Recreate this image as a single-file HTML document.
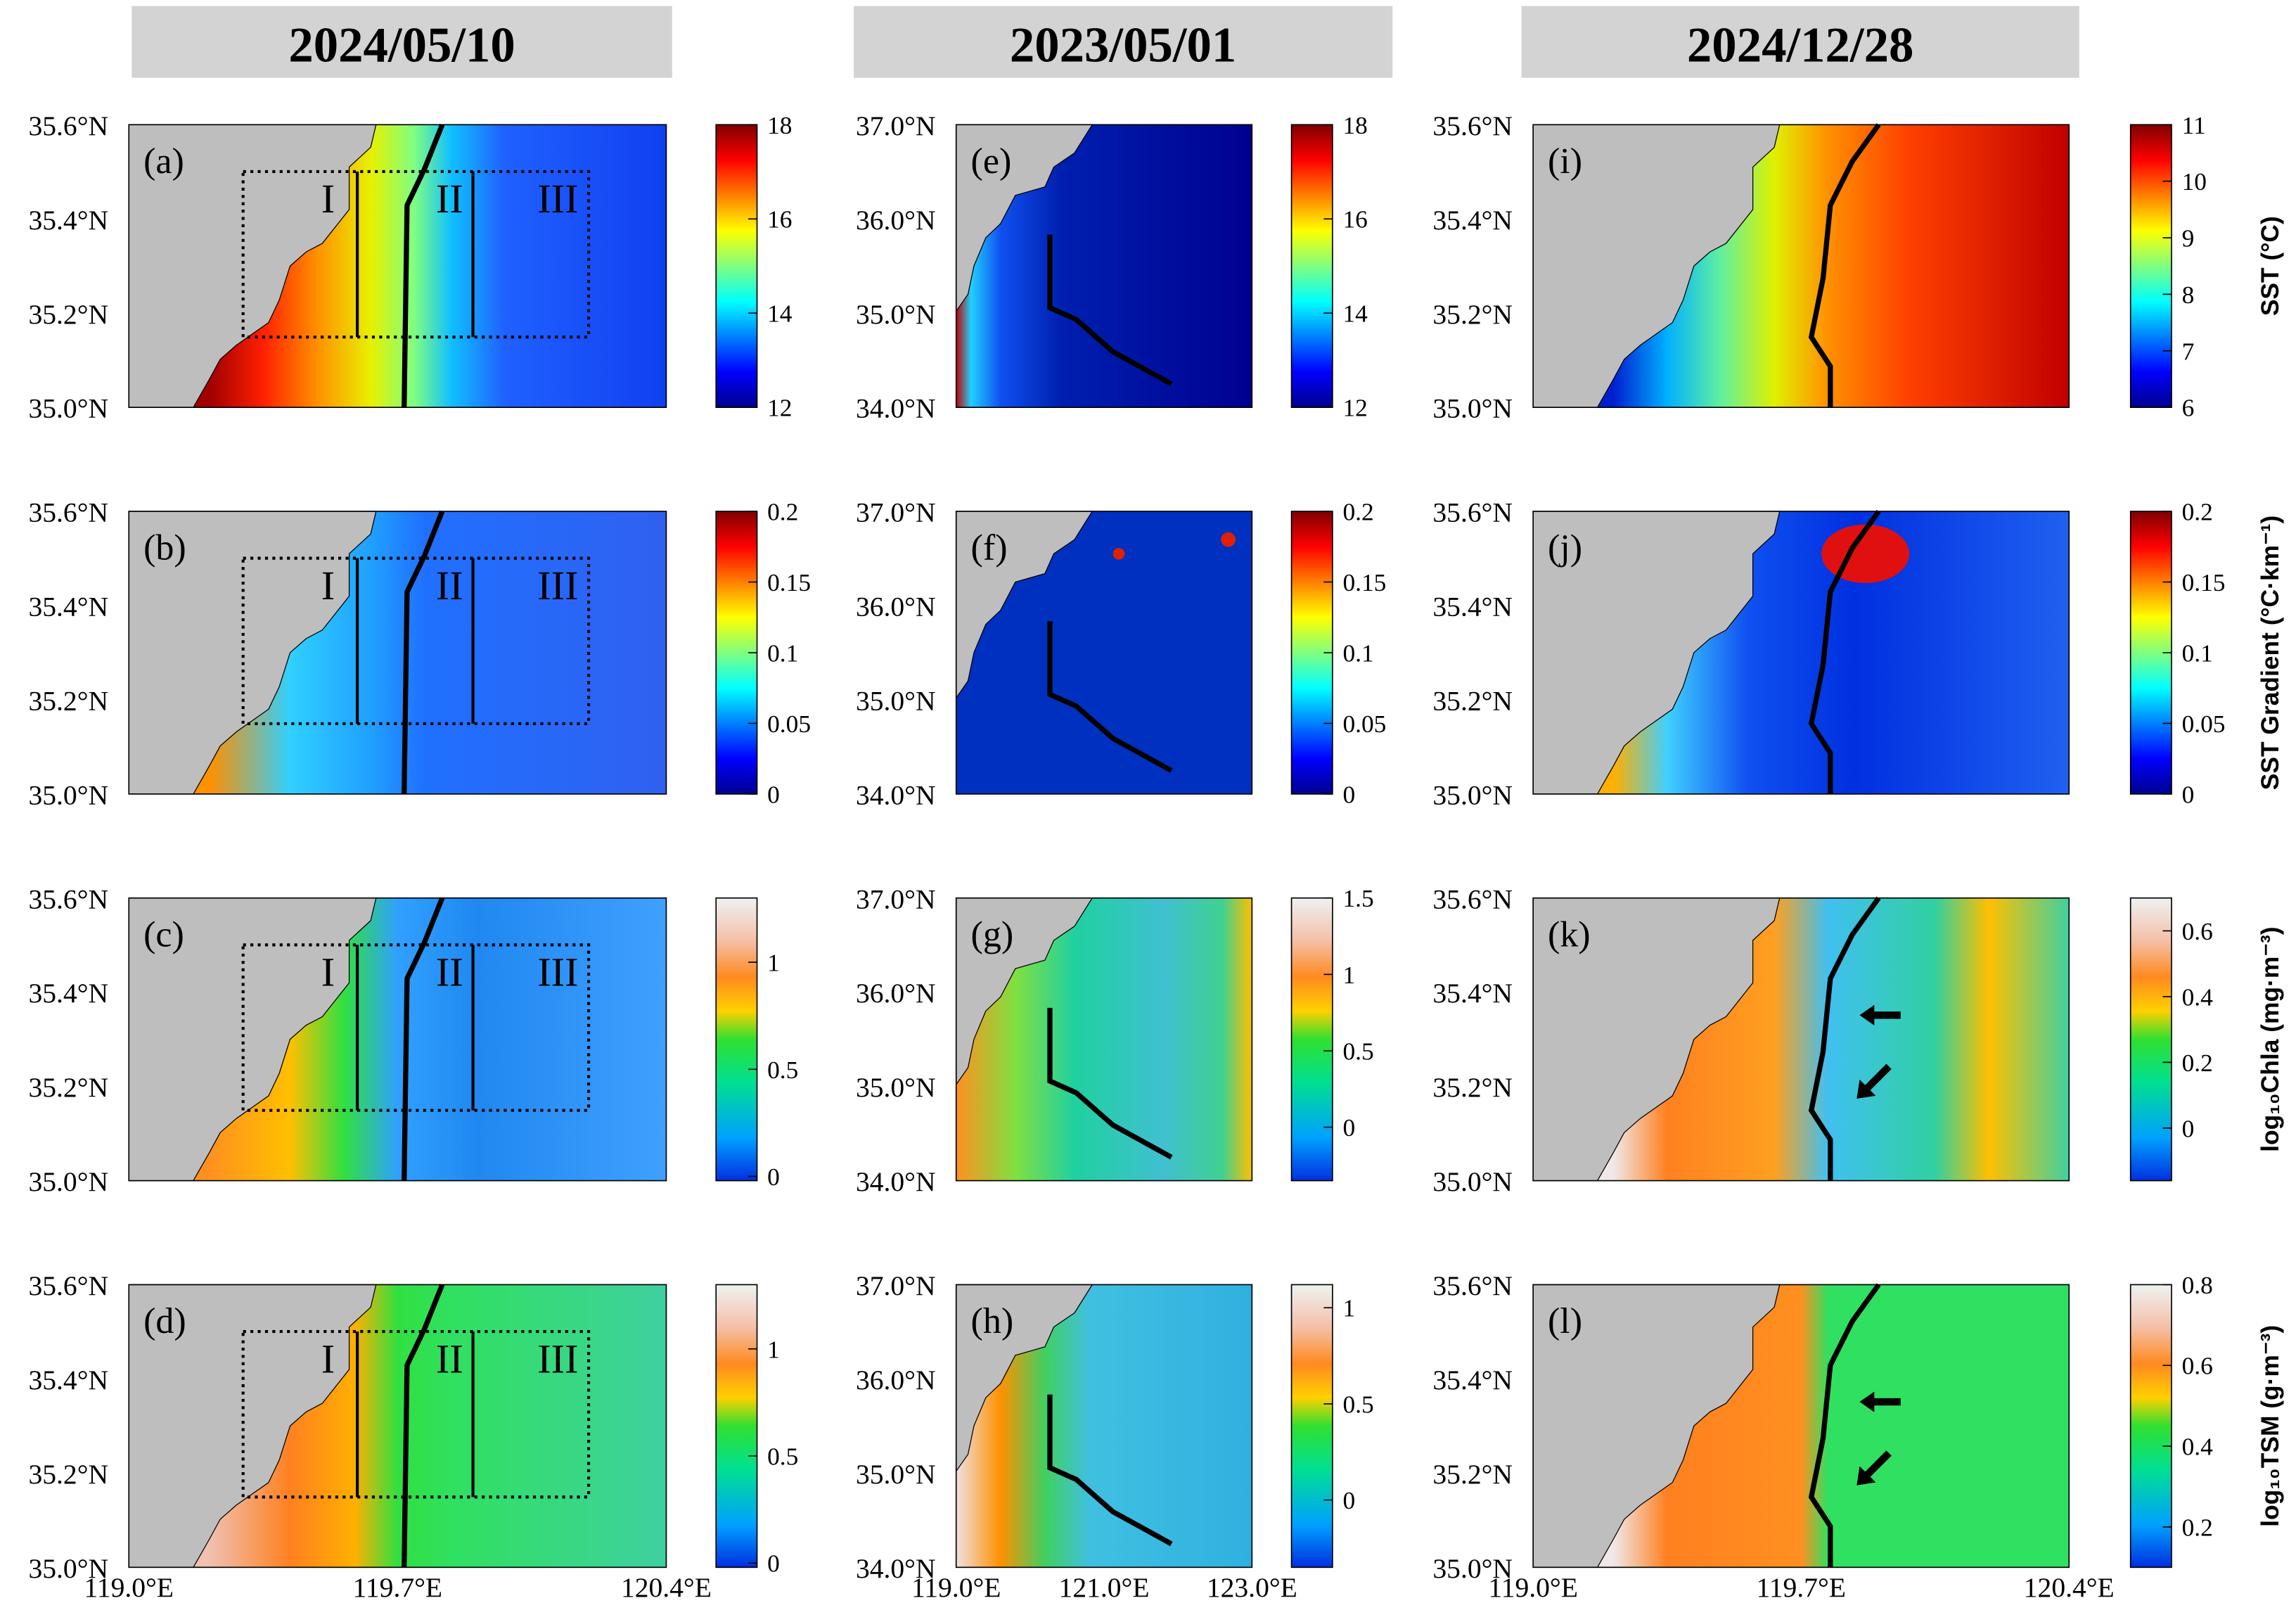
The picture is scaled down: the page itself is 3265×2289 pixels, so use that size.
<!DOCTYPE html>
<html><head><meta charset="utf-8">
<style>
html,body{margin:0;padding:0;background:#fff;}
svg{display:block;}
text{font-family:"Liberation Serif",serif;}
</style></head>
<body>
<svg id="fig" xmlns="http://www.w3.org/2000/svg" width="3265" height="2289" viewBox="0 0 1568 1099">
<defs>
<linearGradient id="jet" x1="0" y1="1" x2="0" y2="0">
<stop offset="0" stop-color="#00008f"/><stop offset="0.125" stop-color="#0000ff"/><stop offset="0.375" stop-color="#00ffff"/><stop offset="0.625" stop-color="#ffff00"/><stop offset="0.875" stop-color="#ff0000"/><stop offset="1" stop-color="#800000"/>
</linearGradient>
<linearGradient id="chl" x1="0" y1="1" x2="0" y2="0">
<stop offset="0" stop-color="#0030e0"/><stop offset="0.15" stop-color="#00a0ff"/><stop offset="0.35" stop-color="#00e090"/><stop offset="0.5" stop-color="#30e030"/><stop offset="0.6" stop-color="#ffd000"/><stop offset="0.72" stop-color="#ff8a20"/><stop offset="0.85" stop-color="#f4c0a8"/><stop offset="1" stop-color="#eef2f2"/>
</linearGradient>
</defs>
<g id="root"></g>
</svg>
<script>
const NS="http://www.w3.org/2000/svg";
const root=document.getElementById('root');
function el(tag,attrs,parent){const e=document.createElementNS(NS,tag);for(const k in attrs)e.setAttribute(k,attrs[k]);(parent||root).appendChild(e);return e;}

// data arrays
const dates=["2024/05/10","2023/05/01","2024/12/28"];
const panelLetters=["a","b","c","d","e","f","g","h","i","j","k","l"];
const latTicksNear=["35.6°N","35.4°N","35.2°N","35.0°N"];
const latTicksFar=["37.0°N","36.0°N","35.0°N","34.0°N"];
const lonTicksNear=["119.0°E","119.7°E","120.4°E"];
const lonTicksFar=["119.0°E","121.0°E","123.0°E"];
const cbRanges=[[12,18],[0,0.2],[-0.02,1.3],[-0.02,1.3],[12,18],[0,0.2],[-0.35,1.5],[-0.35,1.12],[6,11],[0,0.2],[-0.16,0.7],[0.1,0.8]];
const cbTicks=[[12,14,16,18],[0,0.05,0.1,0.15,0.2],[0,0.5,1],[0,0.5,1],[12,14,16,18],[0,0.05,0.1,0.15,0.2],[0,0.5,1,1.5],[0,0.5,1],[6,7,8,9,10,11],[0,0.05,0.1,0.15,0.2],[0,0.2,0.4,0.6],[0.2,0.4,0.6,0.8]];
const rowTitles=["SST (°C)","SST Gradient (°C·km⁻¹)","log₁₀Chla (mg·m⁻³)","log₁₀TSM (g·m⁻³)"];
// ocean color stops (offset across panel width, colour) per panel
const oceanCols=[
 [[0.15,"#a00000"],[0.25,"#ff2000"],[0.35,"#ff9000"],[0.45,"#e8f000"],[0.53,"#80ff80"],[0.6,"#10c0ff"],[0.7,"#2060ff"],[1,"#1040f0"]],
 [[0.15,"#ff9000"],[0.3,"#30d0ff"],[0.45,"#20a0ff"],[0.55,"#2070ff"],[1,"#3060f0"]],
 [[0.15,"#ff9020"],[0.3,"#ffc000"],[0.4,"#30e040"],[0.5,"#30a0ff"],[0.65,"#2088f0"],[1,"#40a0ff"]],
 [[0.15,"#f0c0b0"],[0.3,"#ff8020"],[0.42,"#ffb000"],[0.5,"#30e040"],[0.6,"#30e060"],[1,"#40d0a0"]],
 [[0,"#c00000"],[0.05,"#20d0ff"],[0.15,"#1050f0"],[0.35,"#0020b0"],[1,"#000090"]],
 [[0,"#0030c0"],[1,"#0030c0"]],
 [[0,"#ff9020"],[0.2,"#80e040"],[0.4,"#20d0a0"],[0.7,"#40c0d0"],[0.9,"#40d090"],[1,"#ffc000"]],
 [[0,"#f0e0e0"],[0.15,"#ff9000"],[0.3,"#40d060"],[0.45,"#40c0e0"],[1,"#30b0e0"]],
 [[0.15,"#0020d0"],[0.25,"#00b0ff"],[0.35,"#60f0a0"],[0.45,"#e0f000"],[0.55,"#ff9000"],[0.7,"#ff4000"],[1,"#c00000"]],
 [[0.15,"#ffb000"],[0.25,"#40d0ff"],[0.4,"#1050f0"],[0.6,"#0030e0"],[1,"#2060f0"]],
 [[0.15,"#f0e8e8"],[0.25,"#ff8020"],[0.45,"#ffa020"],[0.55,"#40c0f0"],[0.75,"#30d0a0"],[0.85,"#ffc000"],[1,"#40d0a0"]],
 [[0.15,"#f0e8e8"],[0.25,"#ff8020"],[0.5,"#ff9020"],[0.55,"#30e060"],[1,"#30e060"]]];
const colX=[[88,455],[653,855],[1047,1413]];
const rowY=[[85,278],[349,542],[613,806],[877,1070]];
const cbX=[489,882,1455];

dates.forEach((d,i)=>{
 const bx=[[90,459],[583,951],[1039,1420]][i];
 const r=el('rect',{x:bx[0],y:4,width:bx[1]-bx[0],height:49,fill:'#d3d3d3'});
 
 
 const t=el('text',{x:(bx[0]+bx[1])/2,y:42,'text-anchor':'middle','font-size':34,'font-weight':'bold'});
 t.textContent=d;
 
 
});

function landNear(x0,y0,w,h){
 const p=[[0,0],[0.46,0],[0.45,0.08],[0.41,0.15],[0.41,0.3],[0.36,0.42],[0.33,0.45],[0.3,0.5],[0.28,0.62],[0.26,0.7],[0.2,0.78],[0.17,0.83],[0.15,0.9],[0.12,1],[0,1]];
 return p.map(q=>(x0+q[0]*w)+','+(y0+q[1]*h)).join(' ');
}
function landFar(x0,y0,w,h){
 const p=[[0,0],[0.46,0],[0.4,0.1],[0.33,0.15],[0.3,0.22],[0.2,0.25],[0.15,0.35],[0.1,0.4],[0.06,0.5],[0.04,0.6],[0,0.66]];
 return p.map(q=>(x0+q[0]*w)+','+(y0+q[1]*h)).join(' ');
}

for(let c=0;c<3;c++){
 for(let r=0;r<4;r++){
  const idx=c*4+r;
  const [x0,x1]=colX[c],[y0,y1]=rowY[r];
  const w=x1-x0,h=y1-y0;
  const g=el('g',{});
  
  
  const gid='oc'+idx;
  const lg=el('linearGradient',{id:gid,x1:0,y1:0,x2:1,y2:0},g);
  oceanCols[idx].forEach(([o,col])=>el('stop',{offset:o,'stop-color':col},lg));
  const oc=el('rect',{x:x0,y:y0,width:w,height:h,fill:'url(#'+gid+')'},g);
  
  
  if(idx===9){el('ellipse',{cx:x0+0.62*w,cy:y0+0.15*h,rx:30,ry:20,fill:'#e01010'},g);}
  if(idx===5){el('circle',{cx:x0+0.92*w,cy:y0+0.1*h,r:5,fill:'#e02000'},g);el('circle',{cx:x0+0.55*w,cy:y0+0.15*h,r:4,fill:'#e02000'},g);}
  const land=el('polygon',{points:c===1?landFar(x0,y0,w,h):landNear(x0,y0,w,h),fill:'#bebebe',stroke:'#000','stroke-width':0.6},g);
  
  
  el('rect',{x:x0,y:y0,width:w,height:h,fill:'none',stroke:'#000','stroke-width':0.8},g);
  let pts;
  if(c===0) pts=[[302,85],[290,115],[278,140],[276,278]].map(p=>[p[0],p[1]-85+y0]);
  else if(c===1) pts=[[717,160],[717,210],[735,218],[760,240],[800,262]].map(p=>[p[0],p[1]-85+y0]);
  else pts=[[1283,85],[1265,110],[1250,140],[1245,190],[1237,230],[1250,250],[1250,278]].map(p=>[p[0],p[1]-85+y0]);
  const fl=el('polyline',{points:pts.map(p=>p.join(',')).join(' '),fill:'none',stroke:'#000','stroke-width':3.5},g);
  
  
  if(c===0){
   const by0=117-85+y0,by1=230-85+y0;
   const bx=el('rect',{x:166,y:by0,width:236,height:by1-by0,fill:'none',stroke:'#000','stroke-width':2,'stroke-dasharray':'2,3'},g);
   
   
   [244,323].forEach(xx=>el('line',{x1:xx,y1:by0,x2:xx,y2:by1,stroke:'#000','stroke-width':2},g));
   [["I",224],["II",307],["III",381]].forEach(([s,xx])=>{const t=el('text',{x:xx,y:by0+28,'text-anchor':'middle','font-size':28},g);t.textContent=s;});
  }
  if(c===2&&r>=2){
   const ya=y0+80,yb=y0+115;
   const a1=el('g',{},g);
   
   
   el('line',{x1:1298,y1:ya,x2:1278,y2:ya,stroke:'#000','stroke-width':5},a1);
   el('polygon',{points:`1270,${ya} 1280,${ya-7} 1280,${ya+7}`},a1);
   const a2=el('g',{},g);
   
   
   el('line',{x1:1290,y1:yb,x2:1275,y2:yb+15,stroke:'#000','stroke-width':5},a2);
   el('polygon',{points:`1268,${yb+22} 1270,${yb+9} 1281,${yb+20}`},a2);
  }
  const lt=el('text',{x:x0+10,y:y0+33,'font-size':25},g);
  lt.textContent='('+panelLetters[idx]+')';
  
  
  const lats=c===1?latTicksFar:latTicksNear;
  lats.forEach((s,k)=>{
   const yy=y0+k*h/3;
   const t=el('text',{x:x0-14,y:yy+7,'text-anchor':'end','font-size':19},g);
   t.textContent=s;
   
   
  });
  if(r===3){
   const lons=c===1?lonTicksFar:lonTicksNear;
   lons.forEach((s,k)=>{
    const t=el('text',{x:x0+k*w/2,y:1090,'text-anchor':'middle','font-size':19},g);
    t.textContent=s;
    
    
   });
  }
  const cx=cbX[c];
  const cb=el('rect',{x:cx,y:y0,width:28,height:h,fill:r<2?'url(#jet)':'url(#chl)',stroke:'#000','stroke-width':0.8},g);
  
  
  const [mn,mx]=cbRanges[idx];
  cbTicks[idx].forEach(v=>{
   const yy=y1-(v-mn)/(mx-mn)*h;
   el('line',{x1:cx+22,y1:yy,x2:cx+28,y2:yy,stroke:'#000','stroke-width':0.8},g);
   const t=el('text',{x:cx+35,y:yy+6,'font-size':17},g);
   t.textContent=String(v);
   
   
  });
 }
}
rowTitles.forEach((s,r)=>{
 const yc=(rowY[r][0]+rowY[r][1])/2;
 const t=el('text',{x:0,y:0,transform:`translate(1556,${yc}) rotate(-90)`,'text-anchor':'middle','font-size':17,'font-weight':'bold',style:'font-family:"Liberation Sans",sans-serif'});
 t.textContent=s;
 
 
});
</script>
</body></html>
